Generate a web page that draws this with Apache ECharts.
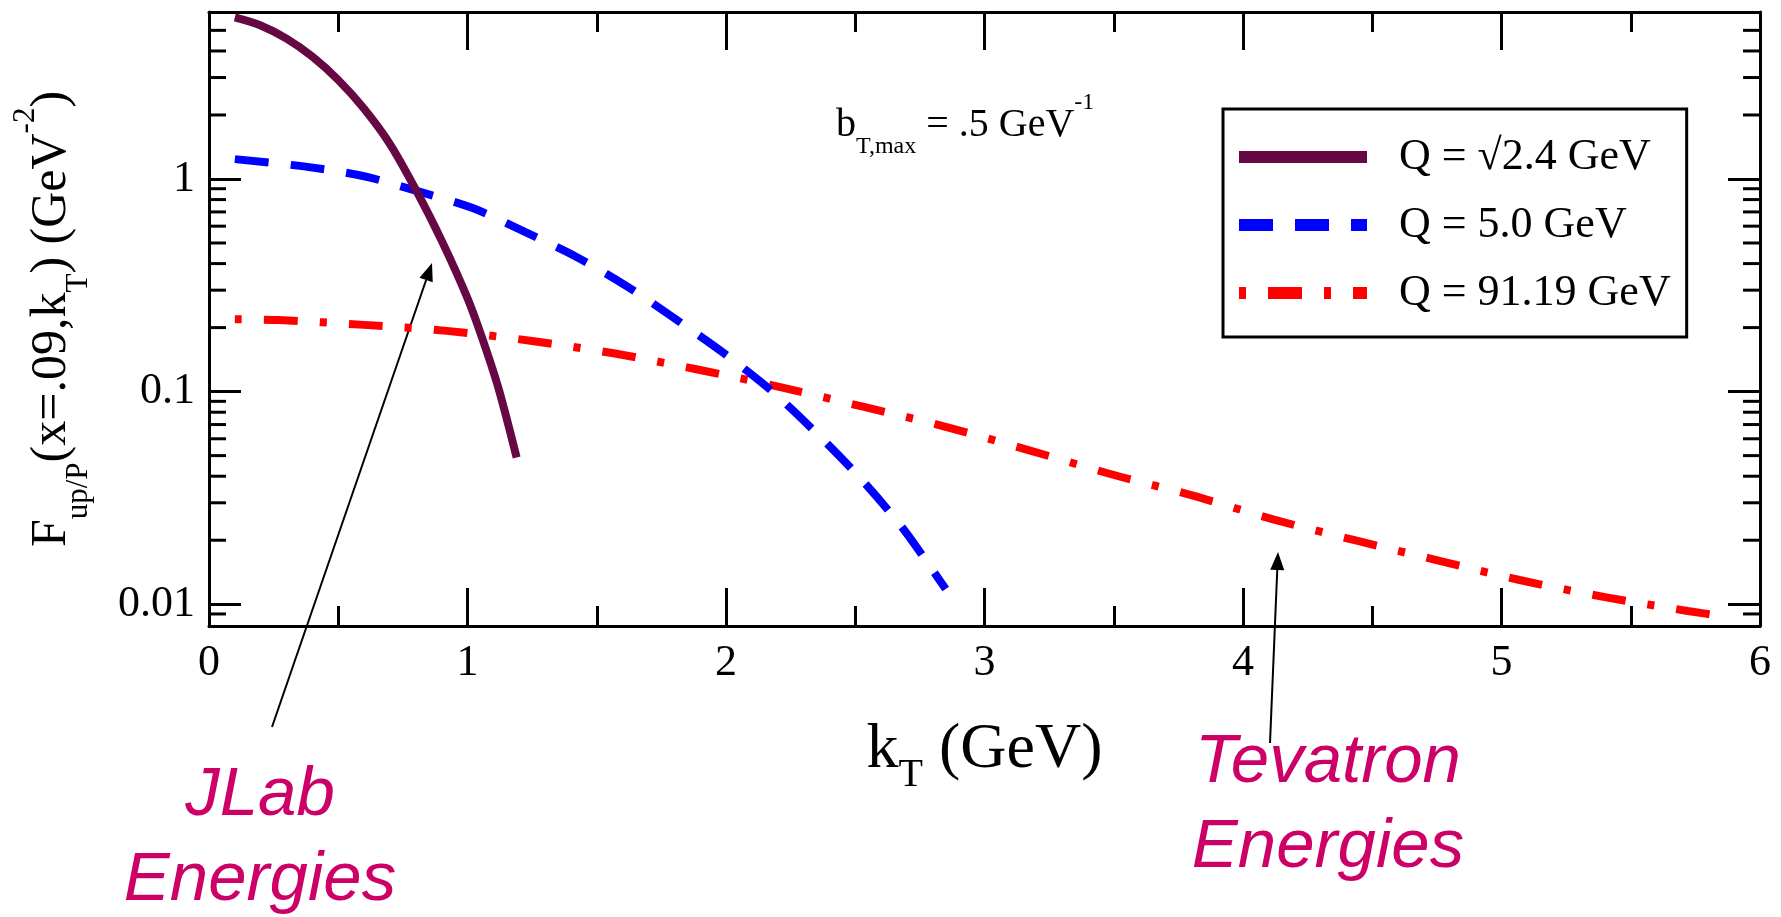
<!DOCTYPE html>
<html>
<head>
<meta charset="utf-8">
<title>F up/P vs kT</title>
<script src="https://cdn.jsdelivr.net/npm/echarts@6/dist/echarts.min.js"></script>
<style>
  html, body { margin: 0; padding: 0; background: #fff; }
  #chart { width: 1781px; height: 917px; }
</style>
</head>
<body>
<div id="chart"></div>
<script>
// Q = sqrt(2.4) GeV  (JLab)
const kLow = [0.10, 0.20, 0.30, 0.40, 0.50, 0.60, 0.70, 0.80, 0.90, 1.00, 1.06, 1.12, 1.19];
const fLow = [5.75, 5.27, 4.57, 3.76, 2.92, 2.14, 1.46, 0.891, 0.513, 0.275, 0.174, 0.1035, 0.049];
// Q = 5.0 GeV
const kMid = [0.10, 0.38, 0.60, 0.80, 1.02, 1.22, 1.42, 1.62, 1.81, 2.00, 2.18, 2.35, 2.52, 2.68, 2.82, 2.85];
const fMid = [1.24, 1.14, 1.03, 0.881, 0.73, 0.565, 0.431, 0.311, 0.217, 0.149, 0.100, 0.0638, 0.0391, 0.0231, 0.0133, 0.0118];
// Q = 91.19 GeV  (Tevatron)
const kHigh = [0.10, 0.27, 0.60, 0.92, 1.25, 1.57, 1.89, 2.21, 2.53, 2.85, 3.17, 3.48, 3.80, 4.12, 4.44, 4.76, 5.07, 5.40, 5.72, 5.88];
const fHigh = [0.219, 0.217, 0.206, 0.193, 0.173, 0.151, 0.127, 0.105, 0.0849, 0.0683, 0.0531, 0.0412, 0.0326, 0.0250, 0.0199, 0.0160, 0.0130, 0.0108, 0.0093, 0.0087];

const seriesNames = ['Q = √2.4 GeV', 'Q = 5.0 GeV', 'Q = 91.19 GeV'];
// minor ticks of the log axis (2..9 x 10^n)
const yMinorTicks = [0.009, 0.02, 0.03, 0.04, 0.05, 0.06, 0.07, 0.08, 0.09,
  0.2, 0.3, 0.4, 0.5, 0.6, 0.7, 0.8, 0.9, 2, 3, 4, 5];

const SERIF = "'Liberation Serif', 'DejaVu Serif', serif";
const SANS = "'Liberation Sans', Arial, sans-serif";

function pairs(xs, ys) {
  return xs.map((x, i) => [x, ys[i]]);
}

function arrow(x1, y1, x2, y2) {
  const len = Math.hypot(x2 - x1, y2 - y1);
  const ux = (x2 - x1) / len, uy = (y2 - y1) / len;
  const bx = x2 - ux * 18, by = y2 - uy * 18;
  return {
    type: 'group', silent: true,
    children: [
      {type: 'line', shape: {x1: x1, y1: y1, x2: bx, y2: by}, style: {stroke: '#000', lineWidth: 2}},
      {type: 'polygon', shape: {points: [[x2, y2], [bx - uy * 7, by + ux * 7], [bx + uy * 7, by - ux * 7]]}, style: {fill: '#000'}}
    ]
  };
}

const lineBlack = {color: '#000', width: 3};

function xAxisOf(pos, withLabels) {
  return {
    type: 'value', min: 0, max: 6, interval: 1, position: pos,
    axisLine: {show: true, onZero: false, lineStyle: lineBlack},
    axisTick: {inside: true, length: 38, lineStyle: lineBlack},
    minorTick: {show: true, splitNumber: 2, length: 20, lineStyle: lineBlack},
    splitLine: {show: false},
    axisLabel: {show: withLabels, fontFamily: SERIF, fontSize: 44, color: '#000', margin: 15}
  };
}

function yAxisOf(pos, withLabels) {
  return {
    type: 'log', logBase: 10, min: 0.0079, max: 6.1, position: pos,
    axisLine: {show: true, onZero: false, lineStyle: lineBlack},
    axisTick: {inside: true, length: 32, lineStyle: lineBlack},
    splitLine: {show: false},
    axisLabel: {
      show: withLabels, fontFamily: SERIF, fontSize: 44, color: '#000', margin: 14,
      showMinLabel: false, showMaxLabel: false,
      formatter: v => {
        const e = Math.log10(v);
        return Math.abs(e - Math.round(e)) < 1e-6 ? String(+v.toPrecision(6)) : '';
      }
    }
  };
}

const chart = echarts.init(document.getElementById('chart'));

const xMain = xAxisOf('bottom', true);
xMain.name = '{m|k}{s|T}{m| (GeV)}';
xMain.nameLocation = 'middle';
xMain.nameGap = 79;
xMain.nameTextStyle = {
  rich: {
    m: {fontFamily: SERIF, fontSize: 64, lineHeight: 90, color: '#000'},
    s: {fontFamily: SERIF, fontSize: 40, lineHeight: 40, verticalAlign: 'bottom', color: '#000'}
  }
};

const yMain = yAxisOf('left', true);
yMain.name = '{m|F}{s|up/P}{m|(x=.09,k}{s|T}{m|) (GeV}{p|-2}{m|)}';
yMain.nameLocation = 'middle';
yMain.nameRotate = 90;
yMain.nameGap = 115;
yMain.nameTextStyle = {
  rich: {
    m: {fontFamily: SERIF, fontSize: 50, lineHeight: 84, color: '#000'},
    s: {fontFamily: SERIF, fontSize: 31, lineHeight: 31, verticalAlign: 'bottom', color: '#000'},
    p: {fontFamily: SERIF, fontSize: 31, lineHeight: 31, verticalAlign: 'top', color: '#000'}
  }
};

chart.setOption({
  animation: false,
  backgroundColor: '#fff',
  grid: {left: 209, right: 21, top: 12, bottom: 291},
  xAxis: [xMain, xAxisOf('top', false)],
  yAxis: [yMain, yAxisOf('right', false)],
  legend: {
    data: seriesNames,
    orient: 'vertical',
    left: 1223, top: 109,
    padding: [24, 16, 20, 10],
    itemGap: 20, itemWidth: 128, itemHeight: 14,
    borderColor: '#000', borderWidth: 3, borderRadius: 0,
    backgroundColor: '#fff',
    selectedMode: false,
    itemStyle: {color: 'rgba(0,0,0,0)', borderWidth: 0},
    lineStyle: {width: 12},
    textStyle: {fontFamily: SERIF, fontSize: 44, lineHeight: 48, color: '#000', padding: [0, 0, 0, 27]}
  },
  series: [
    {
      name: seriesNames[0], type: 'line', data: pairs(kLow, fLow),
      symbol: 'none', smooth: 0.3, z: 4,
      lineStyle: {color: '#650843', width: 8},
      itemStyle: {color: '#650843'}
    },
    {
      name: seriesNames[1], type: 'line', data: pairs(kMid, fMid),
      symbol: 'none', smooth: 0.3, z: 3,
      lineStyle: {color: '#0000ff', width: 8, type: [34, 22]},
      itemStyle: {color: '#0000ff'}
    },
    {
      name: seriesNames[2], type: 'line', data: pairs(kHigh, fHigh),
      symbol: 'none', smooth: 0.3, z: 2,
      lineStyle: {color: '#ff0000', width: 8, type: [7, 22, 34, 22]},
      itemStyle: {color: '#ff0000'}
    },
    {
      type: 'custom', silent: true, clip: false, z: 5,
      data: yMinorTicks.map(v => [0, v]),
      renderItem: (params, api) => {
        const v = api.value(1);
        const l = api.coord([0, v]);
        const r = api.coord([6, v]);
        const st = {stroke: '#000', lineWidth: 3};
        return {
          type: 'group',
          children: [
            {type: 'line', shape: {x1: l[0], y1: l[1], x2: l[0] + 17, y2: l[1]}, style: st},
            {type: 'line', shape: {x1: r[0], y1: r[1], x2: r[0] - 17, y2: r[1]}, style: st}
          ]
        };
      }
    }
  ],
  graphic: [
    {
      type: 'text', x: 836, y: 91, silent: true,
      style: {
        text: '{m|b}{s|T,max}{m| = .5 GeV}{p|-1}',
        rich: {
          m: {fontFamily: SERIF, fontSize: 40, lineHeight: 68, fill: '#000'},
          s: {fontFamily: SERIF, fontSize: 24, lineHeight: 24, verticalAlign: 'bottom', fill: '#000'},
          p: {fontFamily: SERIF, fontSize: 24, lineHeight: 24, verticalAlign: 'top', fill: '#000'}
        }
      }
    },
    arrow(272, 727, 432, 263),
    arrow(1270, 743, 1278, 552),
    {
      type: 'text', x: 260, y: 838, silent: true,
      style: {
        text: 'JLab\nEnergies', fontFamily: SANS, fontStyle: 'italic', fontSize: 69,
        lineHeight: 85, fill: '#cc0066', align: 'center', verticalAlign: 'middle'
      }
    },
    {
      type: 'text', x: 1328, y: 805, silent: true,
      style: {
        text: 'Tevatron\nEnergies', fontFamily: SANS, fontStyle: 'italic', fontSize: 69,
        lineHeight: 85, fill: '#cc0066', align: 'center', verticalAlign: 'middle'
      }
    }
  ]
});
</script>
</body>
</html>
